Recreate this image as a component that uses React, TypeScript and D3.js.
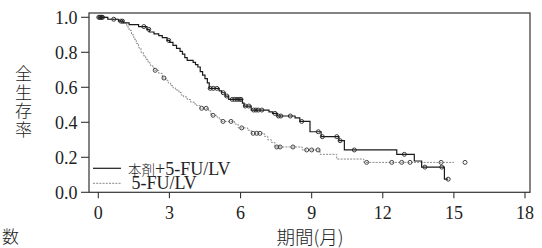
import React from 'react';
import * as d3 from 'd3';

const xTickValues = [0, 3, 6, 9, 12, 15, 18];
const yTickValues = [0, 0.2, 0.4, 0.6, 0.8, 1.0];
const yTickLabels = ['0.0', '0.2', '0.4', '0.6', '0.8', '1.0'];

const seriesNames = ['本剤+5-FU/LV', '5-FU/LV'];

// 本剤+5-FU/LV (solid)
const comboStepTimes = [0.4, 0.85, 1.05, 1.3, 1.7, 2.05, 2.15, 2.35, 2.55, 2.7, 2.9, 3.0, 3.15, 3.3, 3.45, 3.55, 3.65, 3.75, 4.0, 4.1, 4.2, 4.3, 4.4, 4.5, 4.6, 4.68, 5.1, 5.2, 5.35, 5.5, 6.08, 6.15, 6.45, 7.2, 7.35, 7.55, 8.3, 8.5, 8.93, 9.4, 10.15, 10.38, 12.59, 13.33, 13.64, 14.6];
const comboStepSurv = [0.989, 0.978, 0.968, 0.958, 0.947, 0.931, 0.916, 0.905, 0.895, 0.884, 0.868, 0.857, 0.84, 0.822, 0.805, 0.79, 0.77, 0.754, 0.743, 0.73, 0.716, 0.69, 0.67, 0.65, 0.625, 0.594, 0.58, 0.569, 0.55, 0.531, 0.51, 0.493, 0.47, 0.46, 0.451, 0.436, 0.425, 0.405, 0.346, 0.318, 0.295, 0.242, 0.217, 0.179, 0.144, 0.075];
const comboCensorTimes = [0.02, 0.06, 0.1, 0.14, 0.18, 0.65, 0.95, 1.02, 1.92, 2.13, 2.97, 4.72, 4.85, 5.0, 5.27, 5.42, 5.65, 5.75, 5.85, 5.95, 6.02, 6.2, 6.35, 6.55, 6.65, 6.75, 6.9, 7.45, 7.6, 7.7, 8.1, 8.58, 9.28, 9.45, 10.06, 10.2, 10.8, 12.91, 13.78, 14.49, 14.76];
const comboEnd = 14.76;

// 5-FU/LV (dashed)
const controlStepTimes = [0.4, 0.85, 1.05, 1.2, 1.3, 1.4, 1.5, 1.6, 1.7, 1.8, 1.9, 2.0, 2.1, 2.2, 2.3, 2.38, 2.55, 2.7, 2.85, 2.95, 3.05, 3.15, 3.25, 3.4, 3.5, 3.6, 3.75, 3.9, 4.05, 4.15, 4.3, 4.65, 4.75, 5.0, 5.1, 5.2, 5.75, 5.9, 6.3, 6.45, 7.0, 7.15, 7.3, 7.45, 8.6, 9.35, 10.06, 11.2];
const controlStepSurv = [0.989, 0.978, 0.968, 0.945, 0.925, 0.9, 0.875, 0.85, 0.825, 0.8, 0.78, 0.76, 0.74, 0.725, 0.71, 0.697, 0.68, 0.653, 0.64, 0.625, 0.61, 0.597, 0.585, 0.57, 0.555, 0.545, 0.53, 0.515, 0.505, 0.495, 0.48, 0.465, 0.44, 0.43, 0.415, 0.405, 0.39, 0.368, 0.355, 0.337, 0.32, 0.3, 0.285, 0.259, 0.242, 0.217, 0.19, 0.171];
const controlCensorTimes = [2.4, 2.77, 4.36, 4.55, 4.84, 5.26, 5.6, 6.05, 6.53, 6.68, 6.82, 7.53, 7.67, 8.21, 8.79, 9.0, 9.27, 11.32, 12.38, 12.8, 13.15, 14.46, 15.47];
const controlEnd = 15.0;

const W = 542;
const H = 248;
const box = { left: 89, right: 530, top: 13, bottom: 192.3 };
const x = d3.scaleLinear().domain([0, 18]).range([98.3, 525]);
const y = d3.scaleLinear().domain([0, 1]).range([192.3, 17.3]);

const serif = '"Liberation Serif", "DejaVu Serif", "Noto Sans CJK JP", serif';
const cjk = '"Noto Sans CJK JP", "Noto Sans CJK SC", sans-serif';
const textColor = '#222';

function survAt(times: number[], surv: number[], t: number) {
  let s = 1;
  for (let i = 0; i < times.length; i++) {
    if (times[i] <= t) s = surv[i];
  }
  return s;
}

function kmPath(times: number[], surv: number[], end: number) {
  const pts: [number, number][] = [[0, 1]];
  times.forEach((t, i) => pts.push([t, surv[i]]));
  pts.push([end, surv[surv.length - 1]]);
  const line = d3
    .line<[number, number]>()
    .x((d) => x(d[0]))
    .y((d) => y(d[1]))
    .curve(d3.curveStepAfter);
  return line(pts) || '';
}

export default function App() {
  const comboPath = kmPath(comboStepTimes, comboStepSurv, comboEnd);
  const controlPath = kmPath(controlStepTimes, controlStepSurv, controlEnd);
  const cjkPart = seriesNames[0].slice(0, 2);
  const latinPart = seriesNames[0].slice(2);
  return (
    <svg
      width={W}
      height={H}
      style={{ position: 'absolute', left: 0, top: 0, background: '#fff' }}
    >
      <rect x={0} y={0} width={W} height={H} fill="#fff" />
      <rect
        x={box.left}
        y={box.top}
        width={box.right - box.left}
        height={box.bottom - box.top}
        fill="none"
        stroke="#333"
        strokeWidth={1.2}
      />
      {yTickValues.map((v, i) => (
        <g key={'y' + i}>
          <line x1={box.left - 8} x2={box.left} y1={y(v)} y2={y(v)} stroke="#333" strokeWidth={1.1} />
          <text
            x={77.5}
            y={y(v)}
            dy="0.35em"
            textAnchor="end"
            fontFamily={serif}
            fontSize={18}
            fill={textColor}
          >
            {yTickLabels[i]}
          </text>
        </g>
      ))}
      {xTickValues.map((v) => (
        <g key={'x' + v}>
          <line x1={x(v)} x2={x(v)} y1={box.bottom} y2={box.bottom + 6} stroke="#333" strokeWidth={1.1} />
          <text
            x={x(v)}
            y={219}
            textAnchor="middle"
            fontFamily={serif}
            fontSize={18}
            fill={textColor}
          >
            {v}
          </text>
        </g>
      ))}
      <text x={310} y={244} textAnchor="middle" fontFamily={cjk} fontWeight={300} fontSize={18.5} fill={textColor}>
        期間(月)
      </text>
      <text
        x={23.5}
        y={102.5}
        textAnchor="middle"
        fontFamily={cjk}
        fontWeight={300}
        fontSize={17}
        letterSpacing={1.8}
        fill={textColor}
        style={{ writingMode: 'vertical-rl' }}
      >
        全生存率
      </text>
      <text x={10.5} y={237} dy="0.36em" textAnchor="middle" fontFamily={cjk} fontWeight={300} fontSize={17} fill={textColor}>
        数
      </text>
      <path d={controlPath} fill="none" stroke="#888" strokeWidth={1} strokeDasharray="2,1.2" />
      <path d={comboPath} fill="none" stroke="#1a1a1a" strokeWidth={1.2} />
      {controlCensorTimes.map((t, i) => (
        <circle
          key={'cc' + i}
          cx={x(t)}
          cy={y(survAt(controlStepTimes, controlStepSurv, t))}
          r={2}
          fill="none"
          stroke="#333"
          strokeWidth={0.9}
        />
      ))}
      {comboCensorTimes.map((t, i) => (
        <circle
          key={'sc' + i}
          cx={x(t)}
          cy={y(survAt(comboStepTimes, comboStepSurv, t))}
          r={2}
          fill="none"
          stroke="#222"
          strokeWidth={0.9}
        />
      ))}
      <line x1={93} x2={121} y1={168.3} y2={168.3} stroke="#1a1a1a" strokeWidth={1.2} />
      <line x1={93} x2={121} y1={183.3} y2={183.3} stroke="#888" strokeWidth={1} strokeDasharray="2,1.2" />
      <text fontFamily={serif} fontSize={18} fill={textColor}>
        <tspan x={128} y={174.5} fontFamily={cjk} fontWeight={300} fontSize={13.5}>{cjkPart}</tspan>
        <tspan>{latinPart}</tspan>
        <tspan x={131.5} y={188.5}>{seriesNames[1]}</tspan>
      </text>
    </svg>
  );
}
